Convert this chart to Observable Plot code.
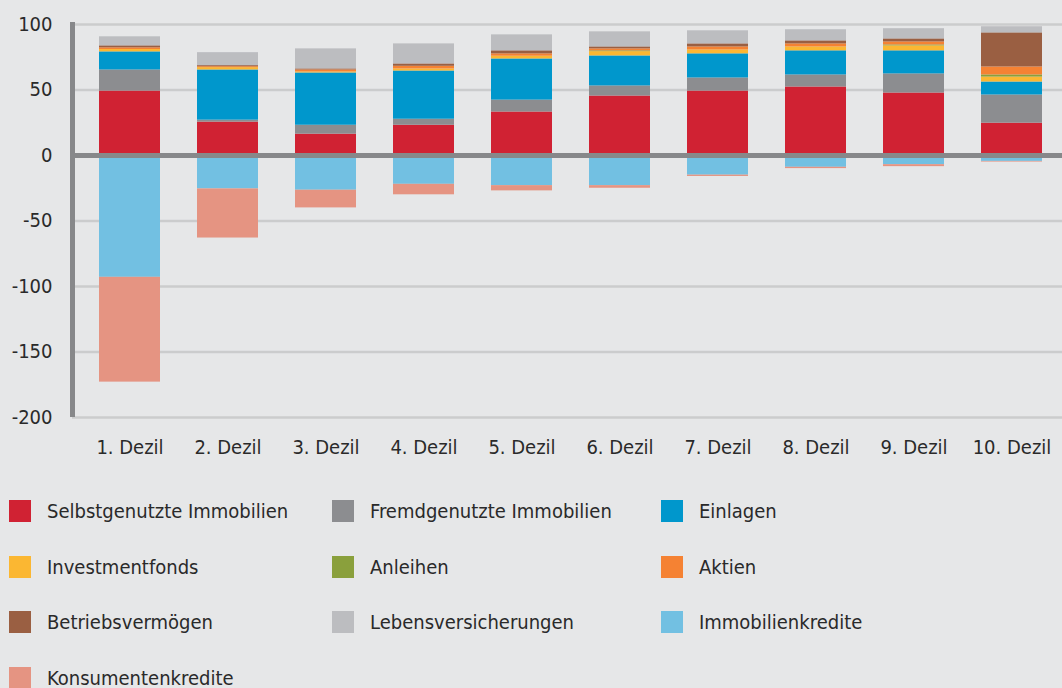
<!DOCTYPE html>
<html><head><meta charset="utf-8">
<script src="https://cdn.jsdelivr.net/npm/d3@7"></script>
<script src="https://cdn.jsdelivr.net/npm/@observablehq/plot@0.6"></script>
<style>
html,body{margin:0;padding:0;background:#e6e7e8;}
body{width:1062px;height:688px;overflow:hidden;font-family:"Liberation Sans Narrow","DejaVu Sans Condensed","Open Sans",sans-serif;color:#2a2a2a;}
#legend{display:grid;grid-template-columns:323px 329px 400px;grid-auto-rows:55.7px;margin-top:13px;padding-left:9px;}
.item{display:flex;align-items:center;font-size:20px;}
.sw{width:22px;height:22px;margin-right:16px;flex:none;}
</style></head>
<body>
<div id="chart"></div>
<div id="legend"></div>
<script>
const deciles = ["1. Dezil","2. Dezil","3. Dezil","4. Dezil","5. Dezil","6. Dezil","7. Dezil","8. Dezil","9. Dezil","10. Dezil"];
const seriesNames = ["Selbstgenutzte Immobilien","Fremdgenutzte Immobilien","Einlagen","Investmentfonds","Anleihen","Aktien","Betriebsvermögen","Lebensversicherungen","Immobilienkredite","Konsumentenkredite"];
const seriesColors = ["#d02233","#8c8d90","#0097cc","#fbb732","#8aa03c","#f58233","#9a5f42","#bcbdc0","#72c0e2","#e59482"];
const selbstgenutzt   = [49.2, 25.5, 16.3, 23.1, 33.2, 45.4, 49.2, 52.3, 47.7, 24.7];
const fremdgenutzt    = [16.1,  1.5,  6.8,  4.6,  9.1,  7.7, 10.0,  9.2, 14.6, 21.5];
const einlagen        = [13.8, 38.3, 39.9, 36.8, 31.4, 22.9, 18.4, 18.4, 17.6,  9.9];
const investmentfonds = [ 1.8,  1.8,  0.8,  1.6,  2.1,  3.3,  3.0,  3.0,  3.8,  3.8];
const anleihen        = [ 0.0,  0.0,  0.0,  0.0,  0.0,  0.6,  0.0,  0.0,  0.7,  1.6];
const aktien          = [ 1.3,  0.7,  1.5,  2.0,  1.8,  1.5,  2.3,  2.3,  2.3,  6.1];
const betrieb         = [ 1.5,  0.8,  0.8,  1.8,  2.3,  1.5,  2.3,  2.3,  2.3, 26.0];
const lebensvers      = [ 6.9,  9.9, 15.3, 15.3, 12.2, 11.5, 10.0,  8.5,  7.8,  4.7];
const immokredite     = [-93.0, -25.5, -26.5, -22.0, -23.0, -23.0, -15.0, -9.0, -7.0, -4.5];
const konsumkredite   = [-80.0, -37.5, -13.5,  -8.0,  -4.0,  -2.0,  -1.0, -1.0, -1.5, -0.5];
const yTicks = [100, 50, 0, -50, -100, -150, -200];

const seriesValues = [selbstgenutzt, fremdgenutzt, einlagen, investmentfonds, anleihen, aktien, betrieb, lebensvers, immokredite, konsumkredite];
const data = [];
seriesNames.forEach((s, i) => deciles.forEach((d, j) => data.push({dezil: d, series: s, value: seriesValues[i][j]})));

const font = '"Liberation Sans Narrow","DejaVu Sans Condensed","Open Sans",sans-serif';
const plot = Plot.plot({
  width: 1062, height: 470,
  marginLeft: 72, marginRight: 0, marginTop: 24, marginBottom: 53,
  style: {background: "transparent", fontFamily: font, fontSize: "20px", color: "#2a2a2a"},
  x: {domain: deciles, range: [72, 1069], paddingInner: 0.378, paddingOuter: 0.2755, label: null},
  y: {domain: [-200, 100], label: null},
  color: {domain: seriesNames, range: seriesColors},
  marks: [
    Plot.gridY(yTicks, {stroke: "#cbcccd", strokeOpacity: 1, strokeWidth: 2.5}),
    Plot.barY(data, {x: "dezil", y: "value", fill: "series", order: seriesNames}),
    Plot.ruleY([0], {stroke: "#87888a", strokeWidth: 5}),
    Plot.axisY(yTicks, {tickSize: 0, tickPadding: 20, fontSize: 20, fill: "#2a2a2a", tickFormat: d => String(d)}),
    Plot.axisX({tickSize: 0, tickPadding: 22, fontSize: 20, fill: "#2a2a2a"})
  ]
});
// left axis line, spanning the y scale range
const yr = plot.scale("y").range;
d3.select(plot).append("line")
  .attr("x1", 72.5).attr("x2", 72.5)
  .attr("y1", Math.min(...yr) - 2).attr("y2", Math.max(...yr))
  .attr("stroke", "#87888a").attr("stroke-width", 5);
document.getElementById("chart").appendChild(plot);

const legend = document.getElementById("legend");
seriesNames.forEach((s, i) => {
  const it = document.createElement("div"); it.className = "item";
  const sw = document.createElement("span"); sw.className = "sw"; sw.style.background = seriesColors[i];
  const t = document.createElement("span"); t.textContent = s;
  it.appendChild(sw); it.appendChild(t); legend.appendChild(it);
});
</script>
</body></html>
